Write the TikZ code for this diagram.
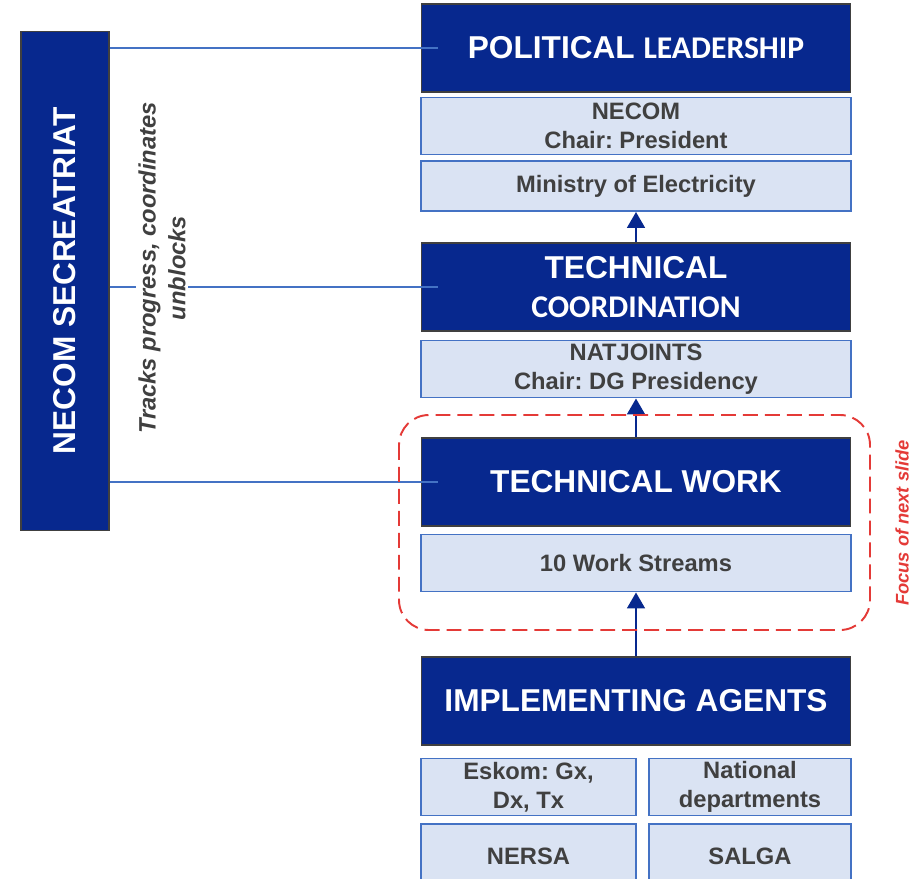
\documentclass[tikz,border=0pt]{standalone}
\usepackage{fontspec}
\setmainfont{Liberation Sans}
\newfontfamily\carlito{Carlito}
\usetikzlibrary{arrows.meta}
\definecolor{navy}{RGB}{7,40,142}
\definecolor{paleblue}{RGB}{218,227,243}
\definecolor{edgeblue}{RGB}{68,114,196}
\definecolor{inkgray}{RGB}{64,64,64}
\definecolor{focusred}{RGB}{228,58,55}
\frenchspacing
\begin{document}
\begin{tikzpicture}[x=0.02cm, y=-0.02cm,
    head/.style={draw=black!75, line width=0.6pt, fill=navy, text=white, inner sep=0pt, align=center,
      font=\bfseries\fontsize{18}{22}\selectfont, minimum width=8.6cm, minimum height=1.76cm},
    sub/.style={draw=edgeblue, line width=1.1pt, fill=paleblue, text=inkgray, inner sep=0pt, align=center,
      font=\bfseries\fontsize{13.5}{16.4}\selectfont, minimum width=8.6cm, minimum height=1.14cm},
    link/.style={draw=edgeblue, line width=0.9pt},
    up/.style={draw=navy, line width=1.4pt, -{Triangle[width=10pt,length=9pt]}},
    focus/.style={draw=focusred, line width=1.1pt, dash pattern=on 8.5pt off 4pt, rounded corners=0.6cm}]
  \useasboundingbox (0,0) rectangle (910,879);
  \clip (0,0) rectangle (910,879);

  % left column
  \node[head, rotate=90, minimum width=10cm, minimum height=1.76cm] (sec) at (65,281) {NECOM SECREATRIAT};

  % right column, top to bottom
  \node[head] (pol) at (636,48) {POLITICAL {\carlito LEADERSHIP}};
  \node[sub] (necom) at (636,126) {NECOM\\Chair: President};
  \node[sub, minimum height=1cm] (mini) at (636,186) {Ministry of Electricity};
  \node[head] (tcoord) at (636,287) {TECHNICAL\\{\carlito COORDINATION}};
  \node[sub] (natj) at (636,369) {NATJOINTS\\Chair: DG Presidency};
  \node[head] (twork) at (636,482) {TECHNICAL WORK};
  \node[sub] (wstr) at (636,563) {10 Work Streams};
  \node[head] (impl) at (636,701) {IMPLEMENTING AGENTS};
  \node[sub, minimum width=4.3cm] (eskom) at (528.5,787) {Eskom: Gx,\\Dx, Tx};
  \node[sub, minimum width=4.04cm] (natdep) at (750,787) {National\\departments};
  \node[sub, minimum width=4.3cm, minimum height=1.28cm] (nersa) at (528.5,856) {NERSA};
  \node[sub, minimum width=4.04cm, minimum height=1.28cm] (salga) at (750,856) {SALGA};

  \draw[up] (tcoord.north) -- (mini.south);
  \draw[up] (twork.north) -- (natj.south);
  \draw[up] (impl.north) -- (wstr.south);

  \draw[link] (sec.south |- pol.west) -- ([xshift=0.34cm]pol.west);
  \draw[link] (sec.south |- tcoord.west) -- ([xshift=0.34cm]tcoord.west);
  \draw[link] (sec.south |- twork.west) -- ([xshift=0.34cm]twork.west);
  \node[rotate=90, fill=white, inner sep=1.5pt, align=center, text=inkgray,
    font=\bfseries\itshape\fontsize{13.5}{16.9}\selectfont] (tracks) at (162,268) {Tracks progress, coordinates\\unblocks};

  \draw[focus] (399,415) rectangle (870,630);
  \node[rotate=90, text=focusred, font=\bfseries\itshape\fontsize{10.4}{12}\selectfont] (next) at (902,523) {Focus of next slide};
\end{tikzpicture}
\end{document}
